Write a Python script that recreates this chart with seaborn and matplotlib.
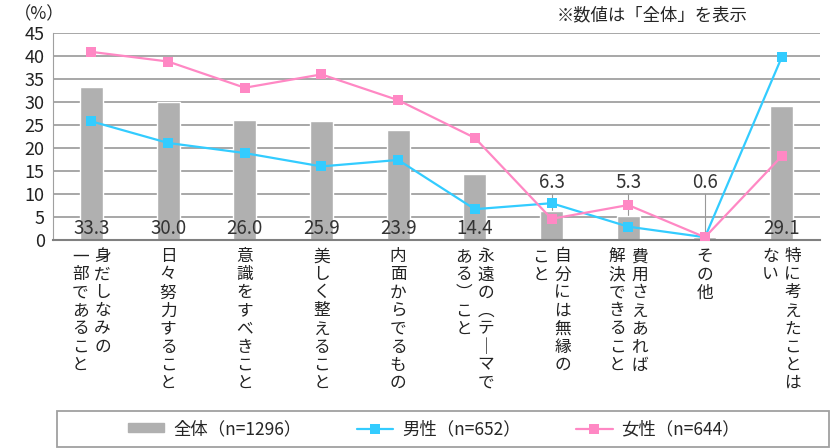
import numpy as np
import pandas as pd
import matplotlib
matplotlib.use("Agg")
import matplotlib.pyplot as plt
import matplotlib.patches as mpatches
from matplotlib.lines import Line2D
import seaborn as sns

# labels: first line is the right-hand column (vertical writing)
items = [
    ["身だしなみの", "一部であること"],
    ["日々努力すること"],
    ["意識をすべきこと"],
    ["美しく整えること"],
    ["内面からでるもの"],
    ["永遠の︵テ｜マで", "ある︶こと"],
    ["自分には無縁の", "こと"],
    ["費用さえあれば", "解決できること"],
    ["その他"],
    ["特に考えたことは", "ない"],
]
overall = [33.3, 30.0, 26.0, 25.9, 23.9, 14.4, 6.3, 5.3, 0.6, 29.1]
male = [25.8, 21.1, 18.9, 16.0, 17.4, 6.7, 8.0, 2.9, 0.6, 39.7]
female = [40.9, 38.8, 33.1, 36.0, 30.4, 22.2, 4.6, 7.6, 0.6, 18.2]

legend_labels = ["全体（n=1296）", "男性（n=652）", "女性（n=644）"]

GRAY = "#B0B0B0"
BLUE = "#33CCFF"
PINK = "#FF88C4"

sns.set_style("white")
plt.rcParams["font.family"] = ["Noto Sans CJK JP", "DejaVu Sans"]

df = pd.DataFrame({"pos": np.arange(len(overall)), "overall": overall,
                   "male": male, "female": female})

fig = plt.figure(figsize=(8.4, 4.48), dpi=100)
ax = fig.add_axes([53 / 840, 1 - 240 / 448, (820 - 53) / 840, (240 - 33) / 448])

sns.barplot(data=df, x="pos", y="overall", color=GRAY, width=0.3,
            saturation=1, ax=ax, zorder=2)
sns.lineplot(data=df, x="pos", y="male", color=BLUE, lw=1.6, marker="s",
             markersize=7, markeredgewidth=0, ax=ax, zorder=4)
sns.lineplot(data=df, x="pos", y="female", color=PINK, lw=1.6, marker="s",
             markersize=7, markeredgewidth=0, ax=ax, zorder=4)

ax.set_xlim(-0.5, len(overall) - 0.5)
ax.set_ylim(0, 45)
ax.set_yticks(range(0, 46, 5))
ax.tick_params(axis="y", labelsize=13, length=0, pad=6, labelcolor="#222222")
ax.set_xticks([])
ax.set_xlabel("")
ax.set_ylabel("")
ax.grid(axis="y", color="#A0A0A0", lw=1.3, zorder=0)
ax.set_axisbelow(True)
for s in ["top", "right"]:
    ax.spines[s].set_visible(False)
ax.spines["left"].set_color("#A0A0A0")
ax.spines["bottom"].set_color("#808080")
ax.spines["bottom"].set_linewidth(1.5)

# value labels
for i, v in enumerate(overall):
    if v >= 10:
        ax.text(i, 1.3, f"{v:.1f}", ha="center", va="baseline", fontsize=13.5,
                color="#333333", zorder=5)
    else:
        ax.plot([i, i], [v, 10.0], color="#999999", lw=0.8, zorder=1)
        ax.text(i, 10.2, f"{v:.1f}", ha="center", va="bottom", fontsize=13.5,
                color="#333333", zorder=5)

# vertical category labels
trans = ax.get_xaxis_transform()
for i, cols in enumerate(items):
    n = len(cols)
    for k, col in enumerate(cols):
        off = 0 if n == 1 else (8 if k == 0 else -8)
        ax.annotate("\n".join(col), xy=(i, 0), xycoords=trans,
                    xytext=(off, -6), textcoords="offset points",
                    ha="center", va="top", ma="center", fontsize=12,
                    linespacing=1.08, color="#222222", annotation_clip=False)

fig.text(14 / 840, 1 - 14 / 448, "（%）", fontsize=12.5, va="center", ha="left")
fig.text(557 / 840, 1 - 15 / 448, "※数値は「全体」を表示", fontsize=12.5,
         va="center", ha="left")

# legend frame
frame = mpatches.Rectangle((57 / 840, 1 - 447 / 448), (829 - 57) / 840,
                           36 / 448, transform=fig.transFigure, fill=False,
                           edgecolor="#A0A0A0", lw=1.3)
fig.patches.append(frame)
handles = [
    mpatches.Patch(color=GRAY),
    Line2D([], [], color=BLUE, lw=1.6, marker="s", markersize=7, markeredgewidth=0),
    Line2D([], [], color=PINK, lw=1.6, marker="s", markersize=7, markeredgewidth=0),
]
fig.legend(handles, legend_labels, loc="center", ncol=3, frameon=False,
           bbox_to_anchor=(434 / 840, 1 - 429 / 448), fontsize=12.5,
           handlelength=2.1, handletextpad=0.5, columnspacing=3.2,
           handleheight=0.4)

fig.savefig("out.png", dpi=100)
